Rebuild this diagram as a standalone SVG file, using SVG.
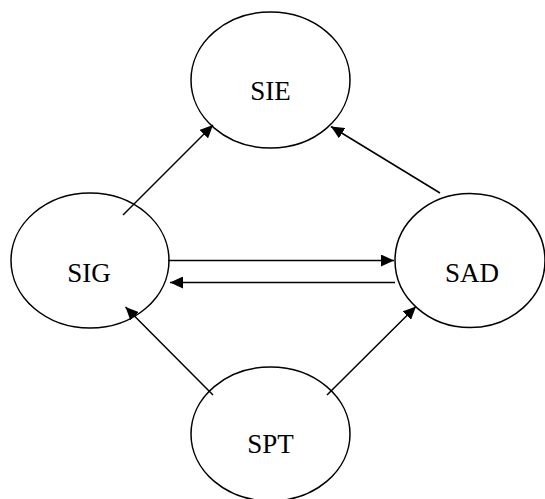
<svg xmlns="http://www.w3.org/2000/svg" width="545" height="499" viewBox="0 0 545 499">
<style>
.node ellipse{fill:#fff;stroke:#000;stroke-width:1.5}
.node text{font-family:"Liberation Serif","Times New Roman",serif;font-size:27px;fill:#000;text-anchor:middle}
#edges line{stroke:#000;stroke-width:1.5;marker-end:url(#arr)}
</style>
<defs>
<marker id="arr" markerUnits="userSpaceOnUse" markerWidth="14" markerHeight="12" viewBox="0 0 14 12" refX="13" refY="6" orient="auto">
<path d="M0,0 L13,6 L0,12 Z" fill="#000"/>
</marker>
</defs>
<g id="SIE" class="node"><ellipse cx="270.5" cy="80" rx="79.5" ry="68"/><text x="270.5" y="100">SIE</text></g>
<g id="SIG" class="node"><ellipse cx="90" cy="260.5" rx="79" ry="67.5"/><text x="89" y="281.5">SIG</text></g>
<g id="SAD" class="node"><ellipse cx="470" cy="260.5" rx="75" ry="67"/><text x="472" y="281.5">SAD</text></g>
<g id="SPT" class="node"><ellipse cx="270.5" cy="434" rx="79.5" ry="67"/><text x="270.5" y="453">SPT</text></g>
<g id="edges">
<line x1="123" y1="215" x2="213" y2="125"/>
<line x1="440" y1="193" x2="331" y2="126.5"/>
<line x1="168" y1="260.5" x2="394" y2="260.5"/>
<line x1="395" y1="282.5" x2="170" y2="282.5"/>
<line x1="213" y1="395" x2="125.5" y2="307"/>
<line x1="327" y1="395" x2="416" y2="306.5"/>
</g>
</svg>
